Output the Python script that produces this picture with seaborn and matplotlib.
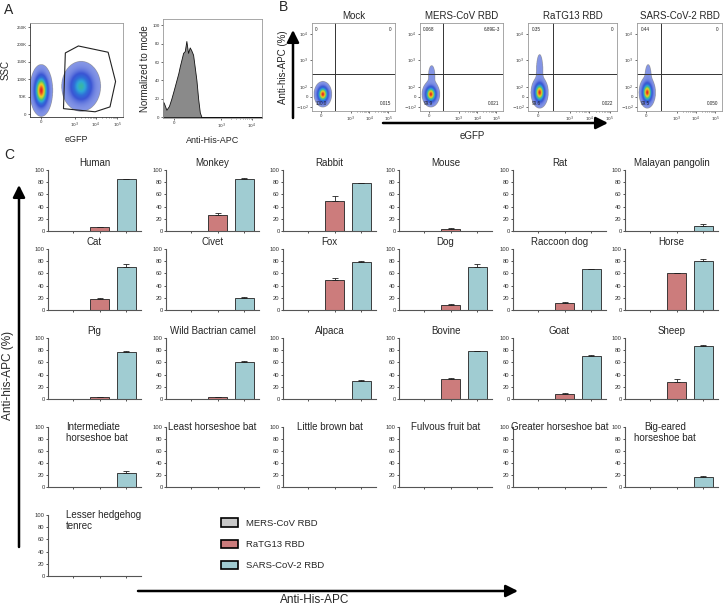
import numpy as np
import pandas as pd
import seaborn as sns
import matplotlib.pyplot as plt
from matplotlib.colors import LinearSegmentedColormap, PowerNorm
from matplotlib.patches import Patch, Polygon

# ---------------- data ----------------
species = ["Human", "Monkey", "Rabbit", "Mouse", "Rat", "Malayan pangolin",
           "Cat", "Civet", "Fox", "Dog", "Raccoon dog", "Horse",
           "Pig", "Wild Bactrian camel", "Alpaca", "Bovine", "Goat", "Sheep",
           "Intermediate\nhorseshoe bat", "Least horseshoe bat", "Little brown bat",
           "Fulvous fruit bat", "Greater horseshoe bat", "Big-eared\nhorseshoe bat",
           "Lesser hedgehog\ntenrec"]
rbds = ["MERS-CoV RBD", "RaTG13 RBD", "SARS-CoV-2 RBD"]

mers_vals = [0.5, 0.5, 0.5, 0.3, 0.5, 0.2, 0.3, 0.2, 0.5, 0.3, 0.3, 0.5,
             0.3, 0.3, 0.3, 0.5, 0.3, 0.3, 0.2, 0.2, 0.2, 0.3, 0.5, 0.2, 0.3]
mers_err = [0] * 25
ratg_vals = [6, 26, 50, 4, 0.2, 0.2, 18, 0.2, 49, 9, 12, 60,
             3, 3, 0.2, 32, 8, 28, 0.2, 0.2, 0.2, 0.2, 0.2, 0.2, 0.2]
ratg_err = [0.5, 3, 8, 0.5, 0, 0, 2, 0, 4, 0.5, 0.5, 1,
            1, 1, 0, 3, 2, 5, 0, 0, 0, 0, 0, 0, 0]
sars_vals = [85, 86, 78, 0.3, 0.5, 9, 71, 19, 79, 71, 67, 81,
             77, 61, 30, 79, 71, 87, 24, 0.5, 0.5, 0.5, 0.2, 17, 0.5]
sars_err = [1, 1, 1, 0, 0, 2, 5, 3, 2, 4, 1, 2,
            1, 0.5, 0.5, 0.5, 0.5, 1, 3, 0, 0, 0, 0, 1, 0]

# panel A histogram (Anti-His-APC, normalized to mode)
hist_x = [0, 1, 3.4, 6, 8.4, 11, 13.5, 15.5, 16.9, 18.5, 20.3, 22, 23.6, 25.3,
          27, 28.5, 30.4, 32, 33.8, 35.5, 37.2, 38.9, 100]
hist_y = [17, 15, 8, 12, 20, 30, 40, 48, 55, 62, 70, 72, 83, 70,
          76, 73, 68, 55, 40, 20, 5, 0, 0]

# panel A gate polygon (eGFP, SSC in K)
gate_x = [38, 52, 84, 92, 86, 70, 36]
gate_y = [176, 196, 178, 94, 21, 7, 16]

# flow populations: (center x, center y, spread x, spread y, weight)
ssc_pops = [(12, 68, 3.8, 23, 1.0), (55, 80, 7, 24, 0.45)]
b_titles = ["Mock", "MERS-CoV RBD", "RaTG13 RBD", "SARS-CoV-2 RBD"]
b_pops = [
    [(13, 19, 3.3, 4.5, 1.0)],
    [(13, 19, 3.3, 4.5, 1.0), (14, 40, 4, 12, 0.008)],
    [(13, 21, 3.0, 5.5, 1.0), (13, 45, 2.5, 13, 0.015)],
    [(12, 21, 3.0, 5.5, 1.0), (13, 38, 2.5, 10, 0.015)],
]
b_quads = [["0", "0", "100.0", "0.015"],
           ["0.068", "6.89E-3", "99.9", "0.021"],
           ["0.35", "0", "99.6", "0.022"],
           ["0.44", "0", "99.5", "0.050"]]

# ---------------- style ----------------
sns.set_theme(style="ticks")
plt.rcParams['font.family'] = ['Liberation Sans', 'DejaVu Sans']
plt.rcParams['axes.edgecolor'] = '#333333'
plt.rcParams['xtick.color'] = '#333333'
plt.rcParams['ytick.color'] = '#333333'

colors = ["#c8c8c8", "#cc7c7c", "#a0ccd2"]
flow_cmap = LinearSegmentedColormap.from_list(
    "flow", ["#8596e6", "#3a55d4", "#2f6fd8", "#2fa8d8", "#40c080", "#a8d040",
             "#f0d020", "#f08020", "#e02020"])

W, H = 726, 606
fig = plt.figure(figsize=(W / 100, H / 100), dpi=100)


def px_axes(x0, y0, x1, y1):
    return fig.add_axes([x0 / W, 1 - y1 / H, (x1 - x0) / W, (y1 - y0) / H])


def biexp_ticks(ax, axis, major, labels, decades):
    # minor ticks inside each decade
    minor = []
    for a, b in decades:
        minor += [a + (b - a) * np.log10(k) for k in range(2, 10)]
    if axis == 'x':
        ax.set_xticks(major, labels)
        ax.set_xticks(minor, minor=True)
    else:
        ax.set_yticks(major, labels)
        ax.set_yticks(minor, minor=True)
    ax.tick_params(which='major', length=1.5, width=0.5, labelsize=3.2, pad=1)
    ax.tick_params(which='minor', length=0.8, width=0.4)


def draw_density(ax, pops, ylim):
    gx = np.linspace(0, 100, 400)
    gy = np.linspace(ylim[0], ylim[1], 400)
    X, Y = np.meshgrid(gx, gy)
    Z = np.zeros_like(X)
    for cx, cy, sx, sy, w in pops:
        Z += w * np.exp(-((X - cx) ** 2 / (2 * sx ** 2) + (Y - cy) ** 2 / (2 * sy ** 2)))
    Z = np.ma.masked_less(Z, 0.005)
    ax.imshow(Z, extent=[0, 100, ylim[0], ylim[1]], origin='lower', aspect='auto',
              cmap=flow_cmap, norm=PowerNorm(gamma=1.0, vmin=0.005, vmax=1.0),
              interpolation='bilinear')
    ax.set_xlim(0, 100)
    ax.set_ylim(*ylim)


# ---------------- panel A ----------------
ax = px_axes(30, 23, 123, 117)
draw_density(ax, ssc_pops, (-8, 262))
ax.add_patch(Polygon(list(zip(gate_x, gate_y)), closed=True, fill=False, ec='#222222', lw=0.8))
biexp_ticks(ax, 'x', [11.6, 48, 71, 94], ["0", "$10^3$", "$10^4$", "$10^5$"],
            [(48, 71), (71, 94)])
ax.set_yticks([0, 50, 100, 150, 200, 250], ["0", "50K", "100K", "150K", "200K", "250K"])
ax.tick_params(axis='y', length=1.5, width=0.5, labelsize=3.2, pad=1)
for s in ax.spines.values():
    s.set_linewidth(0.6)
    s.set_color('#999999')
ax.spines['left'].set_color('#333333')
ax.spines['bottom'].set_color('#333333')
ax.set_ylabel("SSC", fontsize=7, labelpad=4)
ax.set_xlabel("eGFP", fontsize=6.5, labelpad=4)

ax = px_axes(163, 19, 262, 118)
ax.fill_between(hist_x, hist_y, color='#8a8a8a', ec='#111111', lw=0.6)
ax.set_xlim(0, 100)
ax.set_ylim(-1, 107)
biexp_ticks(ax, 'x', [11, 59, 90], ["0", "$10^3$", "$10^4$"], [(59, 90)])
ax.set_yticks([0, 20, 40, 60, 80, 100])
ax.tick_params(axis='y', length=1.5, width=0.5, labelsize=3.2, pad=1)
for s in ax.spines.values():
    s.set_linewidth(0.6)
    s.set_color('#999999')
ax.set_ylabel("Normalized to mode", fontsize=7, labelpad=2)
ax.set_xlabel("Anti-His-APC", fontsize=6.5, labelpad=4)

# ---------------- panel B ----------------
b_left = [312, 420, 528, 637]
b_right = [395, 503, 617, 722]
for i in range(4):
    ax = px_axes(b_left[i], 23, b_right[i], 111)
    draw_density(ax, b_pops[i], (0, 100))
    ax.axvline(28, color='#333333', lw=0.7)
    ax.axhline(42, color='#333333', lw=0.7)
    biexp_ticks(ax, 'x', [11, 47, 69, 92], ["0", "$10^3$", "$10^4$", "$10^5$"],
                [(47, 69), (69, 92)])
    ax.set_yticks([5, 16, 27, 58, 88], ["$-10^2$", "0", "$10^2$", "$10^3$", "$10^4$"])
    ax.tick_params(axis='y', length=1.5, width=0.5, labelsize=3.2, pad=1)
    for s in ax.spines.values():
        s.set_linewidth(0.6)
        s.set_color('#999999')
    q = b_quads[i]
    kw = dict(transform=ax.transAxes, fontsize=3.3, color='#222222')
    ax.text(0.04, 0.93, q[0], ha='left', va='center', **kw)
    ax.text(0.96, 0.93, q[1], ha='right', va='center', **kw)
    ax.text(0.04, 0.09, q[2], ha='left', va='center', **kw)
    ax.text(0.96, 0.09, q[3], ha='right', va='center', **kw)
    ax.set_title(b_titles[i], fontsize=7, pad=3)

# ---------------- panel C ----------------
df = pd.DataFrame({
    "species": np.repeat(species, 3),
    "rbd": rbds * len(species),
    "value": np.ravel(np.column_stack([mers_vals, ratg_vals, sars_vals])),
    "err": np.ravel(np.column_stack([mers_err, ratg_err, sars_err])),
})

col_x = [48, 166, 283, 399, 513, 625]
row_y = [(170, 231), (249, 310), (338, 399), (427, 487), (515, 576)]
for k, sp in enumerate(species):
    r, c = divmod(k, 6)
    ax = px_axes(col_x[c], row_y[r][0], col_x[c] + 93, row_y[r][1])
    sub = df[df["species"] == sp]
    sns.barplot(data=sub, x="rbd", y="value", hue="rbd", order=rbds, hue_order=rbds,
                palette=colors, saturation=1, width=0.72, edgecolor='#222222',
                linewidth=0.6, legend=False, ax=ax)
    m = sub["err"].to_numpy() > 0
    xs = np.arange(3)[m]
    ax.errorbar(xs, sub["value"].to_numpy()[m],
                yerr=[np.zeros(m.sum()), sub["err"].to_numpy()[m]],
                fmt='none', ecolor='#222222', elinewidth=0.6, capsize=2.5, capthick=0.6)
    ax.set_xlim(-0.95, 2.55)
    ax.set_ylim(0, 100)
    ax.set_yticks([0, 20, 40, 60, 80, 100])
    ax.set_xticks([0, 1, 2], ["", "", ""])
    ax.set_xlabel("")
    ax.set_ylabel("")
    ax.tick_params(axis='y', length=1.5, width=0.6, labelsize=4.2, pad=1)
    ax.tick_params(axis='x', length=1.5, width=0.6)
    sns.despine(ax=ax)
    for s in ["left", "bottom"]:
        ax.spines[s].set_linewidth(0.8)
        ax.spines[s].set_color('#555555')
    if "\n" in sp:
        if sp.startswith("Big"):
            ax.text(0.43, 1.09, sp, transform=ax.transAxes, ha='center', va='top',
                    fontsize=7, linespacing=1.15)
        else:
            ax.text(0.19, 1.09, sp, transform=ax.transAxes, ha='left', va='top',
                    fontsize=7, linespacing=1.15)
    elif r == 3 or r == 4:
        ax.text(0.5, 1.0, sp, transform=ax.transAxes, ha='center', va='center', fontsize=7)
    else:
        ax.text(0.5, 1.12, sp, transform=ax.transAxes, ha='center', va='center', fontsize=7)

handles = [Patch(facecolor=colors[i], edgecolor='black', linewidth=1.2) for i in range(3)]
fig.legend(handles, rbds, loc='upper left', bbox_to_anchor=(212 / W, 1 - 510 / H),
           frameon=False, fontsize=6.8, handlelength=1.8, handleheight=0.95,
           labelspacing=1.25, handletextpad=0.9)

# ---------------- overlay: letters and arrows ----------------
ov = fig.add_axes([0, 0, 1, 1], zorder=-1)
ov.set_xlim(0, W)
ov.set_ylim(H, 0)
ov.axis('off')
arrow = dict(arrowstyle='-|>,head_length=0.6,head_width=0.3', lw=1.8, color='black',
             shrinkA=0, shrinkB=0)
ov.annotate('', xy=(293, 30), xytext=(293, 118), arrowprops=arrow)
ov.annotate('', xy=(608, 123), xytext=(383, 123), arrowprops=arrow)
ov.annotate('', xy=(19, 185), xytext=(19, 547), arrowprops=arrow)
ov.annotate('', xy=(518, 591), xytext=(138, 591), arrowprops=arrow)
ov.text(283, 67, "Anti-his-APC (%)", rotation=90, ha='center', va='center', fontsize=7)
ov.text(472, 136, "eGFP", ha='center', va='center', fontsize=7)
ov.text(8, 375, "Anti-his-APC (%)", rotation=90, ha='center', va='center', fontsize=8.5)
ov.text(315, 600, "Anti-His-APC", ha='center', va='center', fontsize=8.5)
ov.text(9, 10, "A", ha='center', va='center', fontsize=10)
ov.text(284, 7, "B", ha='center', va='center', fontsize=10)
ov.text(9, 155, "C", ha='center', va='center', fontsize=10)

fig.savefig("out.png", dpi=100)
